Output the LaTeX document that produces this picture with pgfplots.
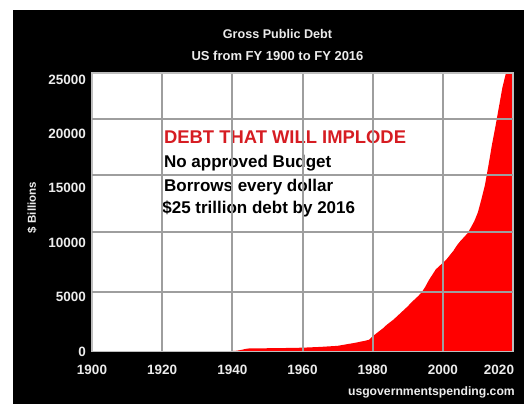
\documentclass[border=0pt]{standalone}
\usepackage{pgfplots}
\pgfplotsset{compat=1.18}
\usepackage{pgfplotstable}
\usepackage{fontspec}
\setmainfont{Liberation Sans}

\definecolor{gridgrey}{RGB}{158,158,158}
\definecolor{framegrey}{RGB}{190,190,190}
\definecolor{debtred}{RGB}{255,0,0}
\definecolor{notered}{RGB}{214,28,34}
\definecolor{labelwhite}{RGB}{236,236,236}

% Gross public debt, $ billions, by fiscal year
\pgfplotstableread{
year debt
1900 1.3
1910 1.1
1917 3
1919 27
1925 21
1930 16
1935 29
1940 45
1941 60
1942 110
1943 180
1944 250
1945 290
1948 280
1950 300
1955 320
1960 350
1965 420
1970 520
1975 800
1978 1000
1979 1080
1980 1400
1981 1650
1982 1900
1983 2150
1984 2450
1985 2700
1986 2950
1987 3250
1988 3550
1989 3850
1990 4150
1991 4500
1992 4800
1993 5100
1994 5450
1995 5950
1996 6550
1997 7050
1998 7550
1999 7850
2000 8150
2001 8450
2002 8850
2003 9250
2004 9750
2005 10150
2006 10500
2007 10850
2008 11400
2009 12000
2010 12800
2011 14000
2012 15300
2013 17100
2014 19000
2015 20700
2016 22500
2017 24300
2018 25600
2020 25600
}\debttable

% shared geometry of the plot area
\pgfplotsset{debtframe/.style={
  at={(92pt,52.5pt)}, anchor=south west,
  scale only axis, width=421pt, height=278.5pt,
  xmin=1900, xmax=2020, ymin=0, ymax=25600,
}}

\begin{document}
\begin{tikzpicture}
\fill[white] (0,0) rectangle (525pt,404pt);
\fill[black] (13pt,0) rectangle (524pt,394pt);
\fill[white] (92pt,52.5pt) rectangle (513pt,331pt);

% annotation text, sitting underneath the grid
\begin{axis}[debtframe, hide axis]
\node[anchor=base west, inner sep=0pt, text=notered,
  font=\fontsize{18.4}{20}\selectfont\bfseries]
  at (axis cs:1920.5,19140) {DEBT THAT WILL IMPLODE};
\node[anchor=base west, inner sep=0pt, text=black,
  font=\fontsize{17}{19}\selectfont\bfseries]
  at (axis cs:1920.5,16930) {No approved Budget};
\node[anchor=base west, inner sep=0pt, text=black,
  font=\fontsize{17}{19}\selectfont\bfseries]
  at (axis cs:1920.5,14690) {Borrows every dollar};
\node[anchor=base west, inner sep=0pt, text=black,
  font=\fontsize{17}{19}\selectfont\bfseries]
  at (axis cs:1920.0,12640) {\$25 trillion debt by 2016};
\end{axis}

\begin{axis}[
  debtframe,
  axis on top,
  axis line style={framegrey, line width=1.8pt},
  major tick length=0pt,
  xtick={1900,1920,1940,1960,1980,2000},
  extra x ticks={2020},
  extra x tick style={xmajorgrids=false, xticklabel style={xshift=-14pt}},
  ytick={0,5000,10000,15000,20000,25000},
  scaled y ticks=false,
  extra y ticks={5500,11000,16200,21400},
  extra y tick labels={},
  extra y tick style={ymajorgrids=true},
  xmajorgrids=true, ymajorgrids=false,
  major grid style={gridgrey, line width=2pt},
  /pgf/number format/assume math mode=true,
  /pgf/number format/1000 sep={},
  xticklabel style={font=\fontsize{13.5}{14}\selectfont\bfseries, text=labelwhite,
    anchor=north, inner sep=0pt, yshift=-13.5pt},
  yticklabel style={font=\fontsize{13.5}{14}\selectfont\bfseries, text=labelwhite,
    anchor=east, inner sep=0pt, xshift=-6pt},
]
\addplot[fill=debtred, draw=none] table[x=year, y=debt] {\debttable} \closedcycle;
\end{axis}

% titles and captions around the plot
\node[anchor=base, inner sep=0pt, text=labelwhite, font=\fontsize{12.6}{14}\selectfont\bfseries]
  at (277.5pt,365.7pt) {Gross Public Debt};
\node[anchor=base, inner sep=0pt, text=labelwhite, font=\fontsize{13}{14}\selectfont\bfseries]
  at (277.5pt,343pt) {US from FY 1900 to FY 2016};
\node[rotate=90, inner sep=0pt, text=labelwhite, font=\fontsize{11.5}{12}\selectfont\bfseries]
  at (32pt,196.5pt) {\$ Billions};
\node[anchor=base east, inner sep=0pt, text=labelwhite, font=\fontsize{12.2}{13}\selectfont\bfseries]
  at (515pt,8pt) {usgovernmentspending.com};

\pgfresetboundingbox
\useasboundingbox (0,0) rectangle (525pt,404pt);
\end{tikzpicture}
\end{document}
